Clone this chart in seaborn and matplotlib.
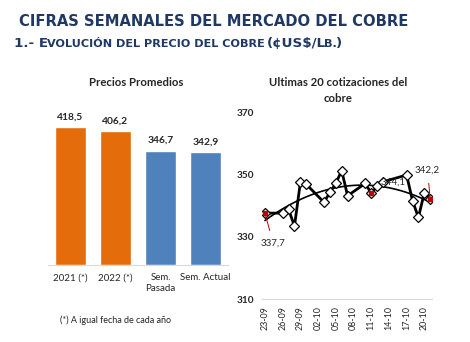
import matplotlib
matplotlib.use("Agg")
import matplotlib.pyplot as plt
import matplotlib.dates as mdates
import numpy as np
import pandas as pd
import seaborn as sns

# ---- data ----
bar_labels = ["2021 (*)", "2022 (*)", "Sem.\nPasada", "Sem. Actual"]
bar_values = [418.5, 406.2, 346.7, 342.9]
bar_colors = ["#e46c0a", "#e46c0a", "#4f81bd", "#4f81bd"]

quote_dates = ["2022-09-23", "2022-09-26", "2022-09-27", "2022-09-28", "2022-09-29",
               "2022-09-30", "2022-10-03", "2022-10-04", "2022-10-05", "2022-10-06",
               "2022-10-07", "2022-10-10", "2022-10-11", "2022-10-12", "2022-10-13",
               "2022-10-17", "2022-10-18", "2022-10-19", "2022-10-20", "2022-10-21"]
quote_values = [337.7, 337.7, 338.9, 333.5, 347.6, 347.0, 341.2, 344.4, 347.3, 351.4,
                343.3, 347.3, 344.1, 346.4, 347.8, 350.0, 341.7, 336.3, 344.3, 342.2]
labelled_idx = [0, 12, 19]

y_ticks = [310, 330, 350, 370]

sns.set_theme(style="white")
plt.rcParams["font.family"] = ["Lato", "DejaVu Sans"]

fig = plt.figure(figsize=(4.7, 3.42), dpi=100)
fig.patch.set_facecolor("white")

NAVY = "#1f3864"
TXT = "#262626"


def draw_runs(x, y, runs, weight="bold", color=NAVY, family="DejaVu Sans"):
    """Draw consecutive text runs (text, size) on one baseline, left to right."""
    renderer = fig.canvas.get_renderer()
    xpix = x * fig.bbox.width
    for s, size in runs:
        t = fig.text(xpix / fig.bbox.width, y, s, fontsize=size, fontweight=weight,
                     color=color, family=family, ha="left", va="baseline")
        bb = t.get_window_extent(renderer=renderer)
        xpix = bb.x1 - 1.5


# ---- headings ----
fig.text(19 / 470, 1 - 26 / 342, "CIFRAS SEMANALES DEL MERCADO DEL COBRE",
         fontsize=10.65, fontweight="bold", color=NAVY, family="DejaVu Sans",
         ha="left", va="baseline")
draw_runs(14 / 470, 1 - 47 / 342,
          [("1.- E", 9.7), ("VOLUCIÓN DEL PRECIO DEL COBRE ", 8.1),
           ("(¢US$/L", 9.7), ("B.", 8.1), (")", 9.7)])

# ---- bar chart: average prices ----
ax1 = fig.add_axes([48 / 470, 1 - 265 / 342, 180 / 470, 165 / 342])
bar_df = pd.DataFrame({"cat": bar_labels, "val": bar_values})
sns.barplot(data=bar_df, x="cat", y="val", hue="cat", palette=bar_colors,
            width=0.71, legend=False, saturation=1, ax=ax1)
ax1.set_ylim(0, 500)
ax1.set_xlim(-0.5, 3.5)
for c in ax1.containers:
    ax1.bar_label(c, labels=[f"{v:.1f}".replace(".", ",") for v in c.datavalues],
                  padding=4, fontsize=7.4, fontweight="bold", color=TXT)
ax1.set_xlabel("")
ax1.set_ylabel("")
ax1.set_yticks([])
ax1.tick_params(axis="x", length=0, pad=6, labelsize=7.0, colors=TXT)
for sp in ["top", "right", "left"]:
    ax1.spines[sp].set_visible(False)
ax1.spines["bottom"].set_color("#d9d9d9")
ax1.spines["bottom"].set_linewidth(0.8)
ax1.patch.set_alpha(0)

fig.text(136 / 470, 1 - 83 / 342, "Precios Promedios", fontsize=8.2,
         fontweight="bold", color=TXT, ha="center", va="center")
fig.text(116 / 470, 1 - 320 / 342, "(*) A igual fecha de cada año", fontsize=6.5,
         color=TXT, ha="center", va="center")

# ---- line chart: last 20 quotes ----
ax2 = fig.add_axes([262 / 470, 1 - 299 / 342, 170 / 470, 186 / 342])
q_df = pd.DataFrame({"fecha": pd.to_datetime(quote_dates), "precio": quote_values})
dnum = mdates.date2num(q_df["fecha"])

# polynomial trend line
coef = np.polyfit(dnum - dnum[0], q_df["precio"], 2)
xs = np.linspace(dnum[0], dnum[-1], 100)
ax2.plot(mdates.num2date(xs), np.polyval(coef, xs - dnum[0]), color="black", lw=1.2,
         zorder=2)

sns.lineplot(data=q_df, x="fecha", y="precio", color="black", lw=2.0, marker="D",
             markersize=5.5, markerfacecolor="white", markeredgecolor="black",
             markeredgewidth=0.9, ax=ax2, zorder=3)

# labelled points
offsets = {0: (6, -22), 12: (16, 8), 19: (-2, 21)}
for i in labelled_idx:
    d, v = q_df["fecha"][i], quote_values[i]
    ax2.plot([d], [v], marker="s", ms=3, color="#c00000", zorder=5)
    dx, dy = offsets[i]
    ax2.annotate(f"{v:.1f}".replace(".", ","), xy=(d, v), xytext=(dx, dy),
                 textcoords="offset points", fontsize=7.0, color=TXT,
                 ha="center", va="center", zorder=6,
                 arrowprops=dict(arrowstyle="-", color="#c00000", lw=0.7,
                                 shrinkA=4, shrinkB=0) if i != 12 else None)

ax2.set_ylim(310, 370)
ax2.set_yticks(y_ticks)
ax2.set_xlim(dnum[0] - 0.5, dnum[0] + 28.3)
ticks = pd.date_range("2022-09-23", "2022-10-20", freq="3D")
ax2.set_xticks(ticks)
ax2.xaxis.set_major_formatter(mdates.DateFormatter("%d-%m"))
ax2.tick_params(axis="x", rotation=90, length=0, pad=5, labelsize=6.4, colors=TXT)
ax2.tick_params(axis="y", length=0, pad=6, labelsize=7.2, colors=TXT)
for lab in ax2.get_yticklabels():
    lab.set_fontweight("bold")
ax2.set_xlabel("")
ax2.set_ylabel("")
for sp in ["top", "right", "left"]:
    ax2.spines[sp].set_visible(False)
ax2.spines["bottom"].set_color("#d9d9d9")
ax2.spines["bottom"].set_linewidth(0.8)
ax2.grid(False)
ax2.patch.set_alpha(0)

fig.text(338 / 470, 1 - 83 / 342, "Ultimas 20 cotizaciones del", fontsize=8.2,
         fontweight="bold", color=TXT, ha="center", va="center")
fig.text(338 / 470, 1 - 99 / 342, "cobre", fontsize=8.2,
         fontweight="bold", color=TXT, ha="center", va="center")

fig.savefig("out.png", dpi=100, facecolor="white")
